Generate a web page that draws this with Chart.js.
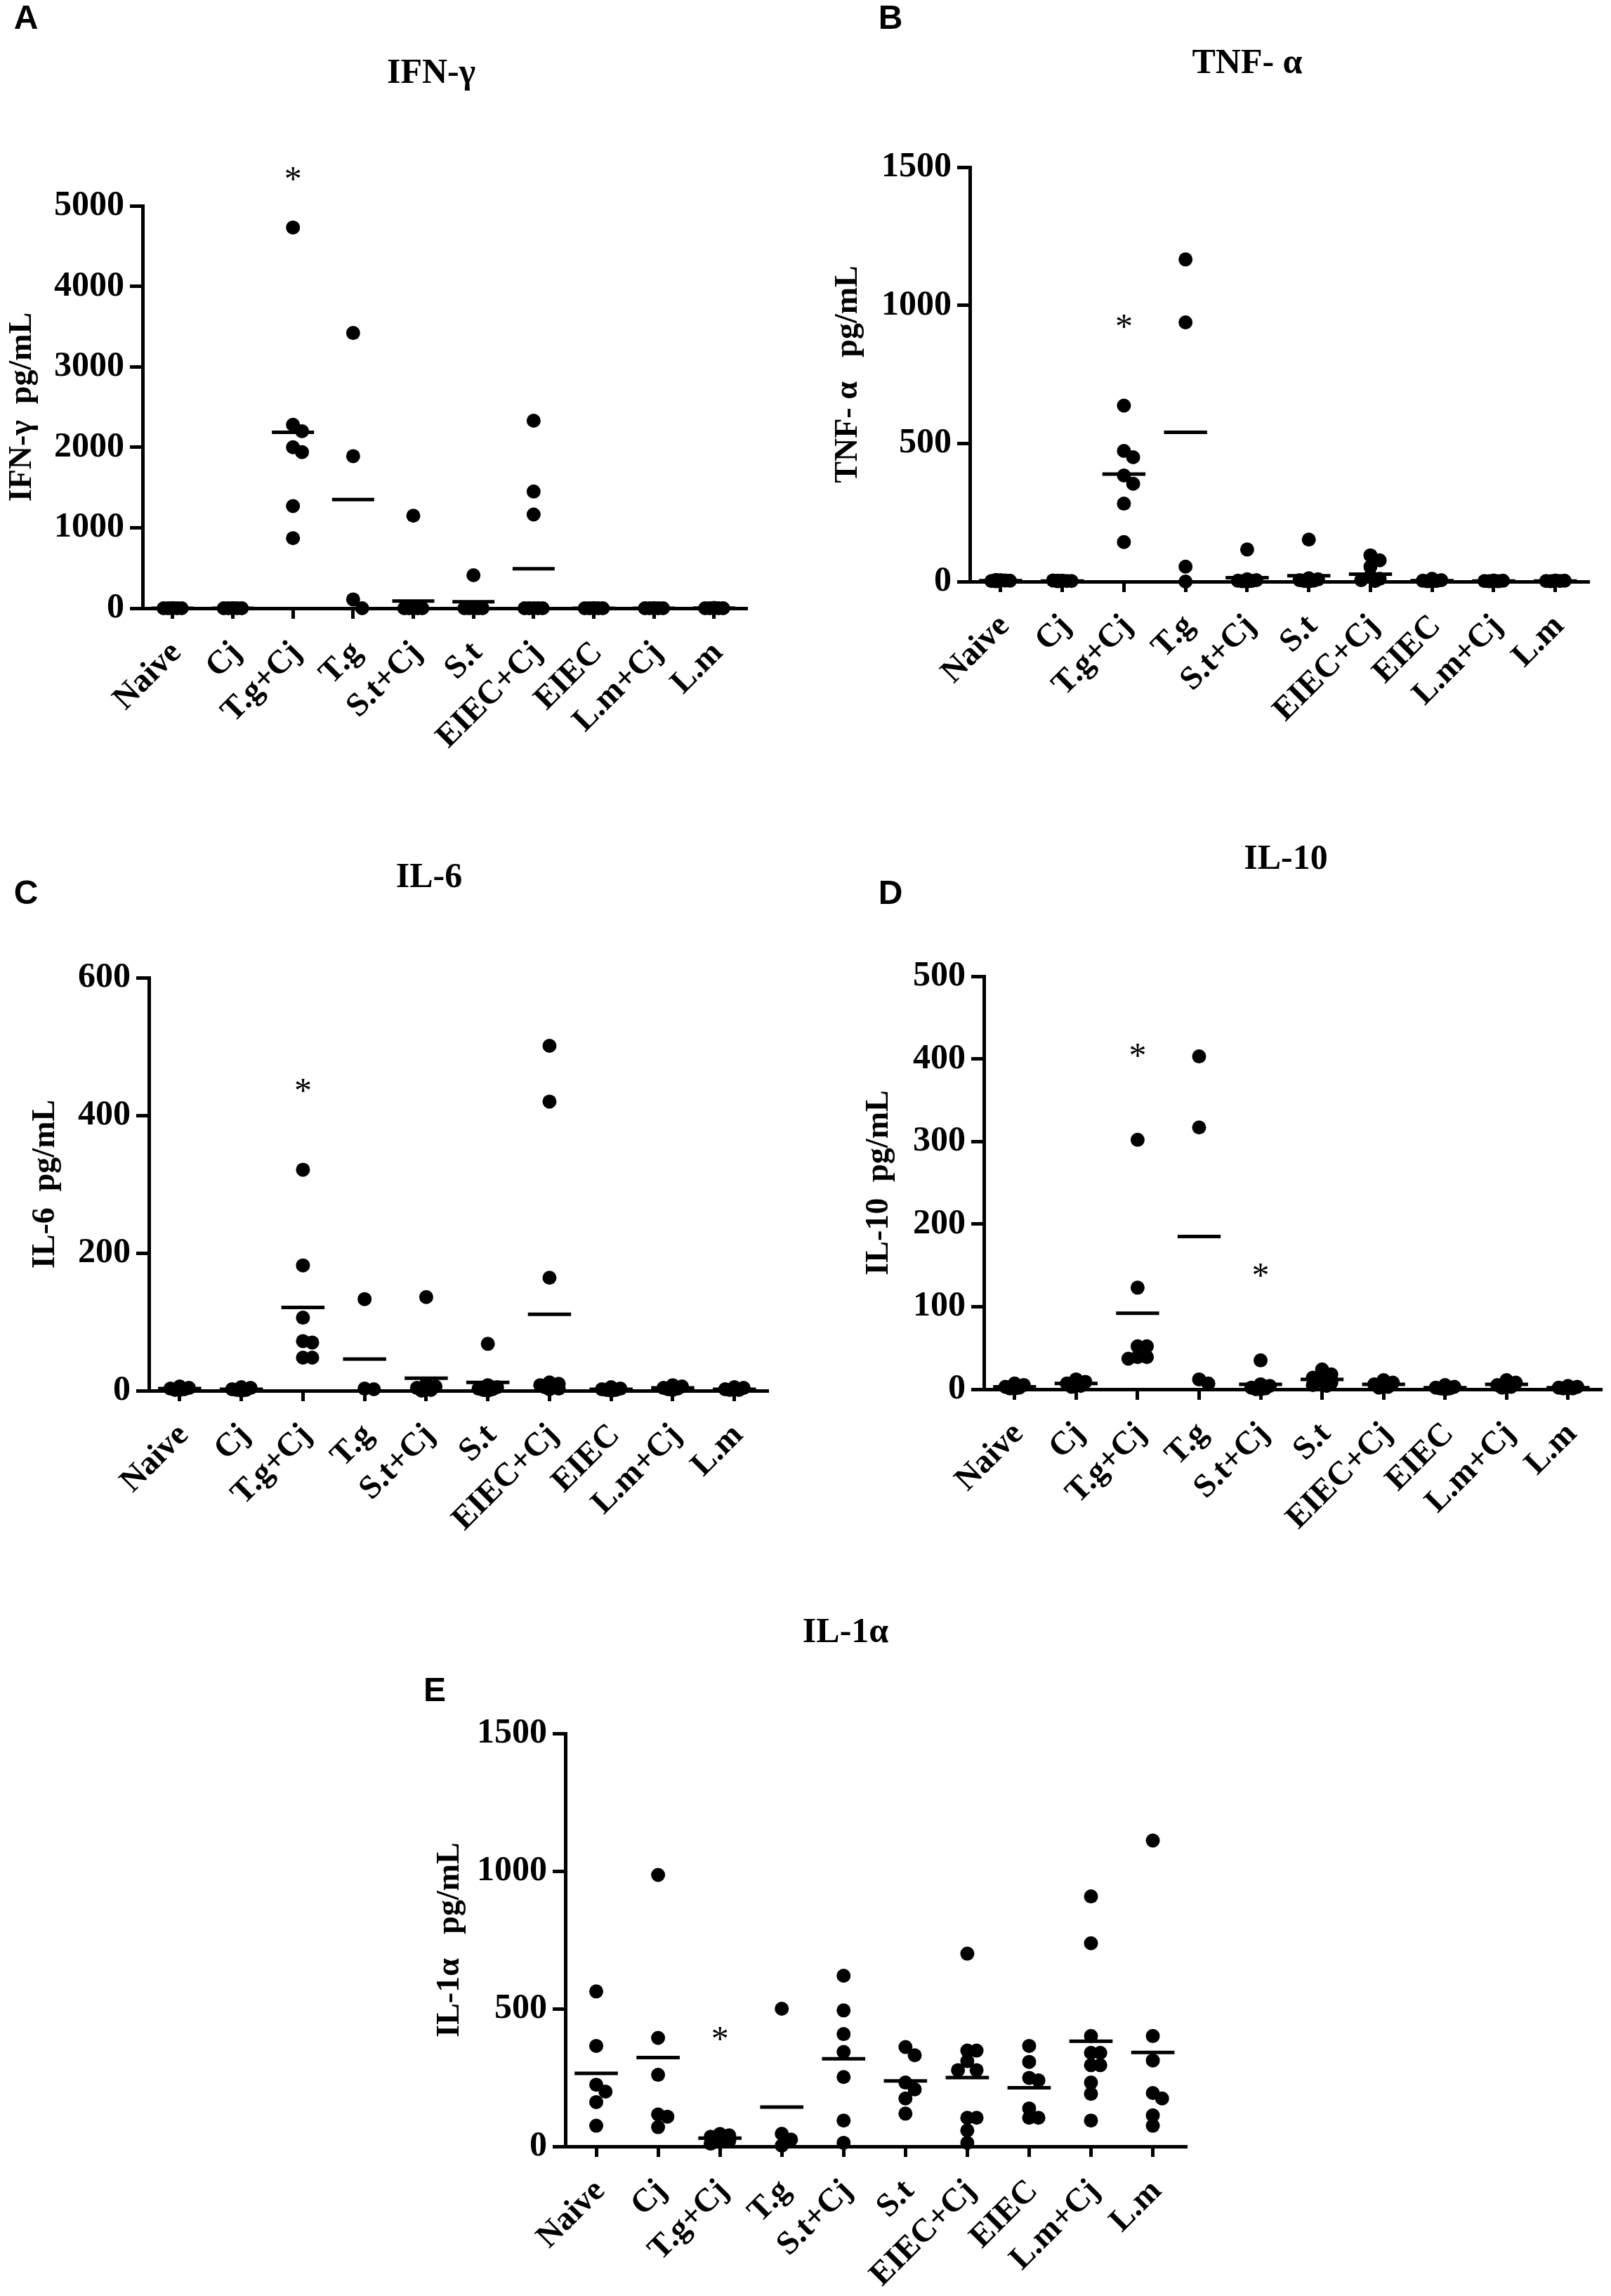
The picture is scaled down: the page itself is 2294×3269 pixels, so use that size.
<!DOCTYPE html>
<html>
<head>
<meta charset="utf-8">
<script src="https://cdn.jsdelivr.net/npm/chart.js@4.4.1/dist/chart.umd.min.js"></script>
<style>
html, body { margin: 0; padding: 0; background: #fff; }
body { width: 2294px; height: 3269px; position: relative; overflow: hidden; }
canvas { position: absolute; }
</style>
</head>
<body>
<canvas id="chartA" width="1147" height="1120" style="left:0px;top:0px"></canvas>
<canvas id="chartB" width="1147" height="1120" style="left:1147px;top:0px"></canvas>
<canvas id="chartC" width="1147" height="1120" style="left:0px;top:1150px"></canvas>
<canvas id="chartD" width="1147" height="1120" style="left:1147px;top:1150px"></canvas>
<canvas id="chartE" width="1200" height="1019" style="left:550px;top:2250px"></canvas>
<script>
const categories = ['Naive', 'Cj', 'T.g+Cj', 'T.g', 'S.t+Cj', 'S.t', 'EIEC+Cj', 'EIEC', 'L.m+Cj', 'L.m'];

// IFN-γ (pg/mL), one list per group
const ifnValues = [
    [0, 0, 0, 0, 0, 0],
    [0, 0, 0, 0, 0, 0],
    [4730, 2280, 2200, 2000, 1940, 1270, 870],
    [3420, 1890, 110, 0],
    [1150, 0, 0, 0, 0, 0, 0],
    [410, 0, 0, 0, 0, 0],
    [2330, 1450, 1165, 0, 0, 0, 0, 0],
    [0, 0, 0, 0, 0, 0],
    [0, 0, 0, 0, 0, 0],
    [5, 0, 0, 0, 0, 0]
];
const ifnMeans = [0, 0, 2185, 1350, 90, 80, 490, 0, 0, 2];
const ifnStarGroups = [3];
const ifnStarLevels = [5384];

// TNF-α
const tnfValues = [
    [5, 3, 2, 4, 1, 6],
    [3, 2, 4, 1, 2, 3],
    [637, 473, 450, 384, 354, 282, 143],
    [1166, 938, 54, 0],
    [116, 8, 5, 3, 2, 1, 0],
    [152, 12, 8, 5, 3, 2, 1],
    [95, 77, 54, 20, 10, 5, 2],
    [10, 5, 3, 2, 1, 1],
    [4, 3, 2, 1, 1],
    [4, 3, 2, 2, 1]
];
const tnfMeans = [3, 2, 389, 540, 14, 21, 27, 3, 2, 2];
const tnfStarGroups = [3];
const tnfStarLevels = [937];

// IL-6
const il6Values = [
    [6, 4, 3, 2, 1, 1],
    [5, 4, 2, 1, 1, 0],
    [321, 182, 106, 72, 70, 48, 48],
    [133, 3, 2],
    [136, 10, 6, 4, 2, 1, 0],
    [68, 8, 5, 3, 2, 1, 0],
    [501, 420, 164, 12, 10, 8, 6, 5, 3, 2],
    [5, 3, 2, 1, 1, 0],
    [8, 6, 4, 3, 2, 1],
    [5, 4, 2, 1, 1]
];
const il6Means = [3, 2, 121, 46, 18, 12, 111, 2, 4, 2];
const il6StarGroups = [3];
const il6StarLevels = [442];

// IL-10
const il10Values = [
    [7, 5, 3, 2, 1, 1],
    [12, 9, 7, 5, 4, 3],
    [302, 123, 52, 52, 39, 39, 37],
    [403, 317, 12, 7],
    [35, 6, 4, 2, 1, 0, 0],
    [24, 18, 14, 10, 8, 5, 4],
    [11, 8, 6, 4, 3, 2],
    [5, 3, 2, 1, 1, 0],
    [11, 8, 5, 4, 3, 2],
    [4, 3, 2, 1, 1]
];
const il10Means = [3, 7, 92, 185, 6, 12, 6, 2, 6, 2];
const il10StarGroups = [3, 5];
const il10StarLevels = [409, 143];

// IL-1α
const il1aValues = [
    [563, 365, 224, 199, 161, 75],
    [986, 394, 260, 116, 108, 70],
    [45, 40, 35, 30, 25, 20, 15, 10],
    [500, 46, 25, 3],
    [620, 494, 408, 343, 252, 94, 13],
    [361, 331, 232, 207, 174, 119],
    [700, 348, 348, 310, 277, 277, 104, 104, 58, 13],
    [365, 307, 249, 240, 138, 104, 104],
    [908, 738, 401, 340, 340, 295, 295, 232, 191, 94],
    [1111, 401, 312, 194, 174, 113, 75]
];
const il1aMeans = [265, 323, 30, 143, 318, 238, 250, 213, 382, 341];
const il1aStarGroups = [3];
const il1aStarLevels = [406];

const serif = '"Liberation Serif", "Times New Roman", serif';

// spread points of similar value sideways, like a scatter dot plot
function spreadGroup(values, yMax) {
    const step = 0.075, pxPerCat = 87, plotH = 585, minDist = 13;
    const placed = [];
    return values.map(v => {
        const py = v / yMax * plotH;
        let best = 0, bestD = -1;
        for (const k of [0, 2, -2, 1, -1]) {
            const px = k * step * pxPerCat;
            let d = Infinity;
            placed.forEach(p => { d = Math.min(d, Math.hypot(p.px - px, p.py - py)); });
            if (d >= minDist) { best = k; bestD = d; break; }
            if (d > bestD) { best = k; bestD = d; }
        }
        placed.push({ px: best * step * pxPerCat, py });
        return best * step;
    });
}

const marksPlugin = {
    id: 'marks',
    afterDatasetsDraw(chart, args, o) {
        const { ctx, scales: { x, y } } = chart;
        ctx.save();
        // mean lines
        ctx.strokeStyle = '#000';
        ctx.lineWidth = 5;
        o.means.forEach((m, i) => {
            const py = y.getPixelForValue(m);
            ctx.beginPath();
            ctx.moveTo(x.getPixelForValue(i + 1 - 0.35), py);
            ctx.lineTo(x.getPixelForValue(i + 1 + 0.35), py);
            ctx.stroke();
        });
        ctx.fillStyle = '#000';
        // significance stars
        ctx.textAlign = 'center';
        ctx.textBaseline = 'alphabetic';
        ctx.font = '50px ' + serif;
        o.starGroups.forEach((g, k) => {
            ctx.fillText('*', x.getPixelForValue(g), y.getPixelForValue(o.starLevels[k]) + 22);
        });
        // group names, slanted under each tick
        ctx.textAlign = 'right';
        ctx.font = 'bold 47px ' + serif;
        categories.forEach((c, i) => {
            ctx.save();
            ctx.translate(x.getPixelForValue(i + 1) + 14, x.top + 65);
            ctx.rotate(-Math.PI / 4);
            ctx.fillText(c, 0, 0);
            ctx.restore();
        });
        ctx.textAlign = 'center';
        ctx.textBaseline = 'middle';
        ctx.font = 'bold 50px ' + serif;
        ctx.fillText(o.title, o.titleAt[0], o.titleAt[1]);
        ctx.font = 'bold 48px "Liberation Sans", Arial, sans-serif';
        ctx.fillText(o.letter, o.letterAt[0], o.letterAt[1]);
        ctx.restore();
    }
};

function makePanel(p) {
    const canvas = document.getElementById(p.id);
    const points = [];
    p.values.forEach((group, i) => {
        const offs = spreadGroup(group, p.max);
        group.forEach((v, j) => points.push({ x: i + 1 + offs[j], y: v }));
    });
    new Chart(canvas.getContext('2d'), {
        type: 'scatter',
        data: {
            datasets: [{
                data: points,
                pointRadius: 10,
                pointBackgroundColor: '#000',
                pointBorderWidth: 0,
                clip: false
            }]
        },
        plugins: [marksPlugin],
        options: {
            responsive: false,
            devicePixelRatio: 1,
            animation: false,
            events: [],
            layout: {
                padding: { left: 0, top: p.area.top, right: canvas.width - p.area.right, bottom: 0 }
            },
            plugins: {
                legend: { display: false },
                tooltip: { enabled: false },
                marks: {
                    means: p.means, starGroups: p.starGroups, starLevels: p.starLevels,
                    title: p.title, titleAt: p.titleAt, letter: p.letter, letterAt: p.letterAt
                }
            },
            scales: {
                x: {
                    type: 'linear',
                    min: 0.5,
                    max: 10.55,
                    afterBuildTicks: scale => { scale.ticks = categories.map((_, i) => ({ value: i + 1 })); },
                    afterFit: scale => { scale.height = canvas.height - p.area.bottom; },
                    border: { display: true, color: '#000', width: 5 },
                    grid: { drawOnChartArea: false, drawTicks: true, tickLength: 15, tickWidth: 5, tickColor: '#000' },
                    ticks: { display: false }
                },
                y: {
                    min: 0,
                    max: p.max,
                    afterFit: scale => { scale.width = p.area.left; },
                    border: { display: true, color: '#000', width: 5 },
                    grid: { drawOnChartArea: false, drawTicks: true, tickLength: 18, tickWidth: 5, tickColor: '#000' },
                    ticks: {
                        stepSize: p.step,
                        padding: 8,
                        color: '#000',
                        font: { family: serif, size: 50, weight: 'bold' },
                        callback: v => String(v)
                    },
                    title: {
                        display: true,
                        text: p.yTitle,
                        color: '#000',
                        padding: { top: p.yTitlePad, bottom: 0 },
                        font: { family: serif, size: 46, weight: 'bold' }
                    }
                }
            }
        }
    });
}

makePanel({
    id: 'chartA', values: ifnValues, means: ifnMeans, starGroups: ifnStarGroups, starLevels: ifnStarLevels,
    max: 5000, step: 1000, title: 'IFN-γ', yTitle: 'IFN-γ  pg/mL', letter: 'A',
    area: { left: 203, top: 293, right: 1064, bottom: 866 }, titleAt: [614, 105], letterAt: [37, 28], yTitlePad: 5
});
makePanel({
    id: 'chartB', values: tnfValues, means: tnfMeans, starGroups: tnfStarGroups, starLevels: tnfStarLevels,
    max: 1500, step: 500, title: 'TNF- α', yTitle: 'TNF- α   pg/mL', letter: 'B',
    area: { left: 234, top: 238, right: 1116, bottom: 828 }, titleAt: [629, 91], letterAt: [121, 28], yTitlePad: 34
});
makePanel({
    id: 'chartC', values: il6Values, means: il6Means, starGroups: il6StarGroups, starLevels: il6StarLevels,
    max: 600, step: 200, title: 'IL-6', yTitle: 'IL-6  pg/mL', letter: 'C',
    area: { left: 212, top: 242, right: 1094, bottom: 830 }, titleAt: [611, 100], letterAt: [37, 124], yTitlePad: 38
});
makePanel({
    id: 'chartD', values: il10Values, means: il10Means, starGroups: il10StarGroups, starLevels: il10StarLevels,
    max: 500, step: 100, title: 'IL-10', yTitle: 'IL-10  pg/mL', letter: 'D',
    area: { left: 254, top: 240, right: 1134, bottom: 828 }, titleAt: [684, 74], letterAt: [121, 124], yTitlePad: 78
});
makePanel({
    id: 'chartE', values: il1aValues, means: il1aMeans, starGroups: il1aStarGroups, starLevels: il1aStarLevels,
    max: 1500, step: 500, title: 'IL-1α', yTitle: 'IL-1α   pg/mL', letter: 'E',
    area: { left: 255, top: 218, right: 1140, bottom: 806 }, titleAt: [654, 75], letterAt: [69, 159], yTitlePad: 64
});
</script>
</body>
</html>
